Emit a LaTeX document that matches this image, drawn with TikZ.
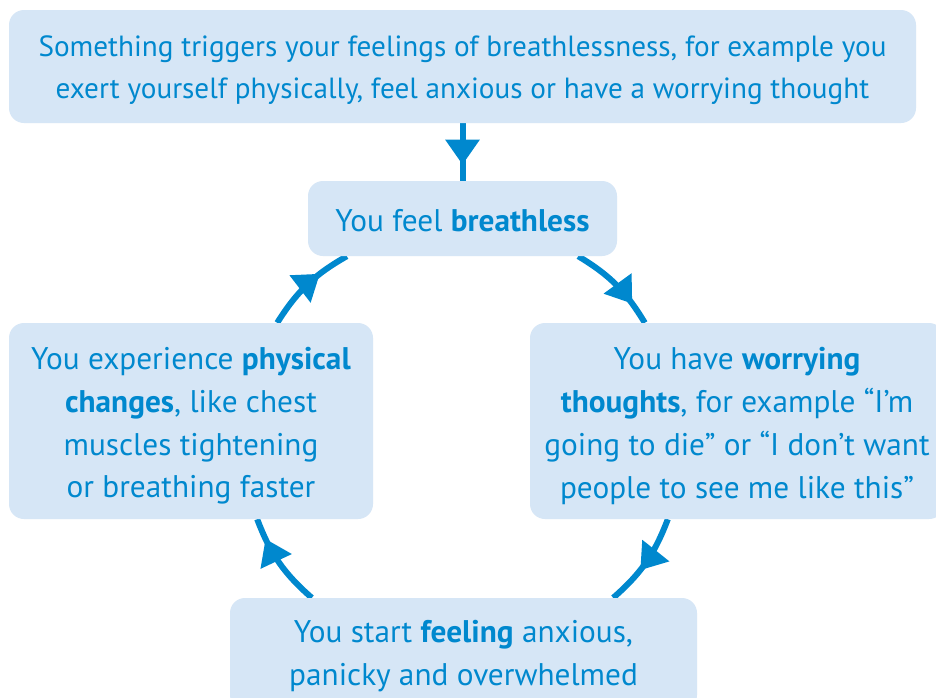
\documentclass[tikz,border=0pt]{standalone}
\usepackage{fontspec}
\setmainfont{PT Sans}
\usetikzlibrary{arrows.meta,decorations.markings,backgrounds}
\definecolor{boxfill}{HTML}{D6E6F6}
\definecolor{ink}{HTML}{0088CE}
\begin{document}
\begin{tikzpicture}[x=1pt,y=-1pt,
 card/.style={fill=boxfill, rounded corners=15pt, inner sep=0pt},
 txt/.style={inner sep=0pt, align=center, text=ink, font=\fontsize{31.3}{42.7}\selectfont},
 toptxt/.style={txt, font=\fontsize{29.2}{42.3}\selectfont},
 flow/.style={draw=ink, line width=6pt},
 tipat/.style={postaction={decorate, decoration={markings, mark=at position #1 with {\arrow{Triangle[length=25pt,width=33pt]}}}}}]
\clip (0,0) rectangle (936,697);
\node[card, minimum width=907pt, minimum height=113pt] (trig) at (462.5,66.5) {};
\node[card, minimum width=309pt, minimum height=75pt] (breath) at (462.5,218.5) {};
\node[card, minimum width=364pt, minimum height=196pt] (phys) at (191,421) {};
\node[card, minimum width=414pt, minimum height=196pt] (worry) at (737,421) {};
\node[card, minimum width=467pt, minimum height=112pt] (feel) at (463.5,654) {};
\node[toptxt] (trigtxt) at ([yshift=-4pt]trig.center) {Something triggers your feelings of breathlessness, for example you\\exert yourself physically, feel anxious or have a worrying thought};
\node[txt] (breathtxt) at ([yshift=-2pt]breath.center) {You feel \textbf{breathless}};
\node[txt] (physttxt) at ([yshift=-5pt]phys.center) {You experience \textbf{physical}\\\textbf{changes}, like chest\\muscles tightening\\or breathing faster};
\node[txt] (worrytxt) at ([yshift=-5pt]worry.center) {You have \textbf{worrying}\\\textbf{thoughts}, for example “I’m\\going to die” or “I don’t want\\people to see me like this”};
\node[txt] (feeltxt) at ([yshift=-2pt]feel.center) {You start \textbf{feeling} anxious,\\panicky and overwhelmed};
\begin{pgfonlayer}{background}
\fill[white] (0,0) rectangle (936,697);
\draw[flow, tipat=0.72] (trig.south) -- (breath.north);
\draw[flow, tipat=0.67] ([xshift=-96pt]phys.north east) to[bend left=14] ([xshift=39pt]breath.south west);
\draw[flow, tipat=0.76] ([xshift=-39pt]breath.south east) to[bend left=14] ([xshift=115pt]worry.north west);
\draw[flow, tipat=0.6] ([xshift=138pt]worry.south west) to[bend left=14] ([xshift=-84pt]feel.north east);
\draw[flow, tipat=0.78] ([xshift=82pt]feel.north west) to[bend left=14] ([xshift=-116pt]phys.south east);
\end{pgfonlayer}
\end{tikzpicture}
\end{document}
